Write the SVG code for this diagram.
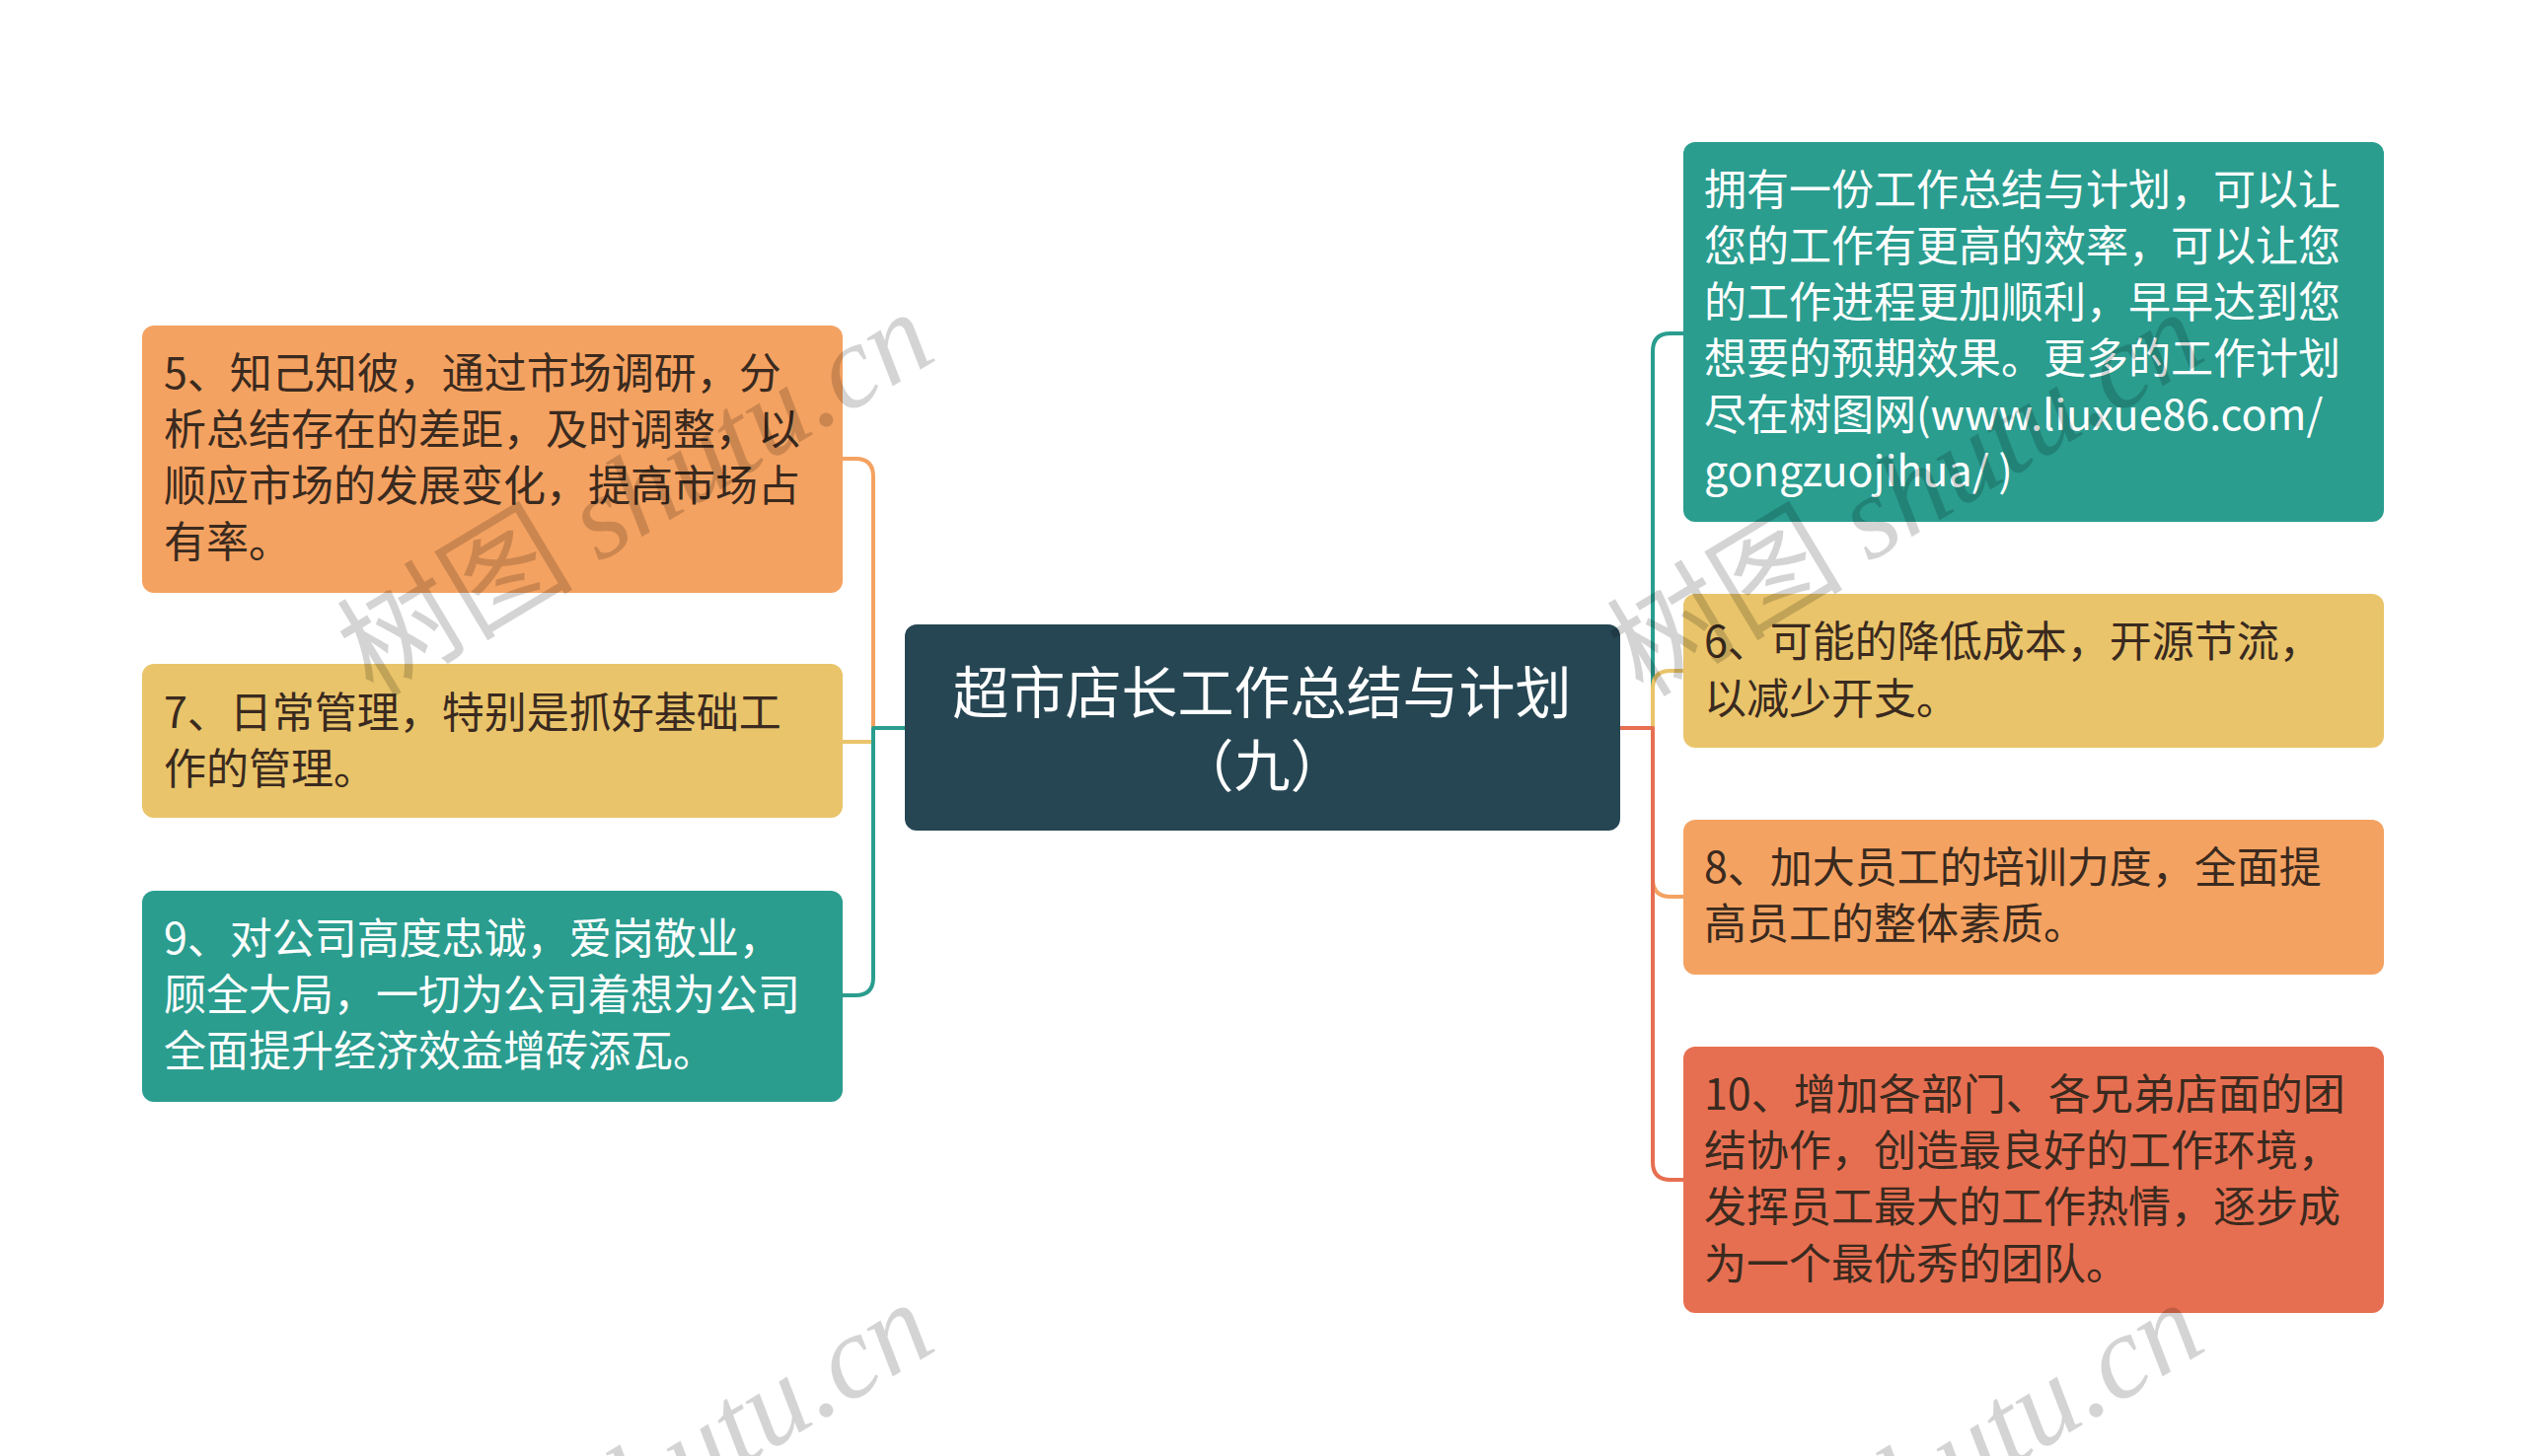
<svg xmlns="http://www.w3.org/2000/svg" width="2560" height="1476" viewBox="0 0 2560 1476">
<style>
.t{font-family:"Noto Sans CJK SC","Noto Sans",sans-serif;font-size:43px;}
.dk{fill:#3a2a1f;}
.wt{fill:#ffffff;}
.conn{fill:none;stroke-width:4;stroke-linejoin:round;stroke-linecap:round;}
.wm{font-size:120px;fill:#000;fill-opacity:0.17;}
.wmc{font-family:"Noto Sans CJK SC",sans-serif;}
.wml{font-family:"Liberation Serif",serif;font-style:italic;}
</style>
<rect width="2560" height="1476" fill="#ffffff"/>
<g id="connectors">
<path class="conn" stroke="#F4A261" d="M917,738 H885 V483 Q885,465 867,465 H854"/>
<path class="conn" stroke="#E9C46A" d="M917,738 H885 V752 H854"/>
<path class="conn" stroke="#2A9D8F" d="M917,738 H885 V991 Q885,1009 867,1009 H854"/>
<path class="conn" stroke="#2A9D8F" d="M1642,738 H1675 V356 Q1675,338 1693,338 H1706"/>
<path class="conn" stroke="#E9C46A" d="M1642,738 H1675 V698 Q1675,680 1693,680 H1706"/>
<path class="conn" stroke="#F4A261" d="M1642,738 H1675 V891 Q1675,909 1693,909 H1706"/>
<path class="conn" stroke="#E76F51" d="M1642,738 H1675 V1178 Q1675,1196 1693,1196 H1706"/>
</g>
<g id="center">
<rect x="917" y="633" width="725" height="209" rx="12" fill="#264653"/>
<text class="t wt" style="font-size:57px" text-anchor="middle"><tspan x="1279" y="723">超市店长工作总结与计划</tspan><tspan x="1279" y="797">（九）</tspan></text>
</g>
<g id="n5">
<rect x="144" y="330" width="710" height="271" rx="12" fill="#F4A261"/>
<text class="t dk"><tspan x="166" y="394">5、知己知彼，通过市场调研，分</tspan><tspan x="166" y="451">析总结存在的差距，及时调整，以</tspan><tspan x="166" y="508">顺应市场的发展变化，提高市场占</tspan><tspan x="166" y="565">有率。</tspan></text>
</g>
<g id="n7">
<rect x="144" y="673" width="710" height="156" rx="12" fill="#E9C46A"/>
<text class="t dk"><tspan x="166" y="738">7、日常管理，特别是抓好基础工</tspan><tspan x="166" y="795">作的管理。</tspan></text>
</g>
<g id="n9">
<rect x="144" y="903" width="710" height="214" rx="12" fill="#2A9D8F"/>
<text class="t wt"><tspan x="166" y="967">9、对公司高度忠诚，爱岗敬业，</tspan><tspan x="166" y="1024">顾全大局，一切为公司着想为公司</tspan><tspan x="166" y="1081">全面提升经济效益增砖添瓦。</tspan></text>
</g>
<g id="nTop">
<rect x="1706" y="144" width="710" height="385" rx="12" fill="#2A9D8F"/>
<text class="t wt"><tspan x="1727" y="208">拥有一份工作总结与计划，可以让</tspan><tspan x="1727" y="265">您的工作有更高的效率，可以让您</tspan><tspan x="1727" y="322">的工作进程更加顺利，早早达到您</tspan><tspan x="1727" y="379">想要的预期效果。更多的工作计划</tspan><tspan x="1727" y="436">尽在树图网(www.liuxue86.com/</tspan><tspan x="1727" y="493">gongzuojihua/ )</tspan></text>
</g>
<g id="n6">
<rect x="1706" y="602" width="710" height="156" rx="12" fill="#E9C46A"/>
<text class="t dk"><tspan x="1727" y="666">6、可能的降低成本，开源节流，</tspan><tspan x="1727" y="724">以减少开支。</tspan></text>
</g>
<g id="n8">
<rect x="1706" y="831" width="710" height="157" rx="12" fill="#F4A261"/>
<text class="t dk"><tspan x="1727" y="895">8、加大员工的培训力度，全面提</tspan><tspan x="1727" y="952">高员工的整体素质。</tspan></text>
</g>
<g id="n10">
<rect x="1706" y="1061" width="710" height="270" rx="12" fill="#E76F51"/>
<text class="t dk"><tspan x="1727" y="1125">10、增加各部门、各兄弟店面的团</tspan><tspan x="1727" y="1182">结协作，创造最良好的工作环境，</tspan><tspan x="1727" y="1239">发挥员工最大的工作热情，逐步成</tspan><tspan x="1727" y="1297">为一个最优秀的团队。</tspan></text>
</g>
<g id="watermarks">
<text class="wm" transform="rotate(-31 378 708)" x="378" y="708"><tspan class="wmc">树图 </tspan><tspan class="wml">shutu.cn</tspan></text>
<text class="wm" transform="rotate(-31 1665 708)" x="1665" y="708"><tspan class="wmc">树图 </tspan><tspan class="wml">shutu.cn</tspan></text>
<text class="wm" transform="rotate(-31 378 1712)" x="378" y="1712"><tspan class="wmc">树图 </tspan><tspan class="wml">shutu.cn</tspan></text>
<text class="wm" transform="rotate(-31 1665 1712)" x="1665" y="1712"><tspan class="wmc">树图 </tspan><tspan class="wml">shutu.cn</tspan></text>
</g>
</svg>
